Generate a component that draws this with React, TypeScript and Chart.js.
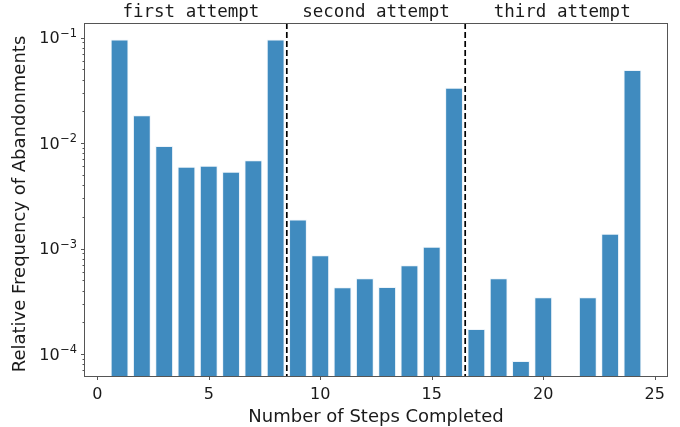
import React, { useEffect, useRef } from 'react';
import { Chart, registerables } from 'chart.js';

Chart.register(...registerables);

// ---- data ----
const STEPS = [1, 2, 3, 4, 5, 6, 7, 8, 9, 10, 11, 12, 13, 14, 15, 16, 17, 18, 19, 20, 21, 22, 23, 24];
const FREQ: (number | null)[] = [
  0.0957, 0.0184, 0.0094, 0.00596, 0.0061, 0.00535, 0.00686, 0.0957,
  0.00189, 0.000863, 0.00043, 0.000523, 0.000432, 0.000693, 0.00104, 0.0334,
  0.000173, 0.000523, 0.0000859, 0.000345, null, 0.000345, 0.00138, 0.0492,
];
const X_TICKS = [0, 5, 10, 15, 20, 25];
const Y_DECADES = [-4, -3, -2, -1];
const DIVIDERS = [8.5, 16.5];
const PHASE_LABELS = ['first attempt', 'second attempt', 'third attempt'];
const PHASE_LABEL_X = [4.2, 12.5, 20.85];
const X_TITLE = 'Number of Steps Completed';
const Y_TITLE = 'Relative Frequency of Abandonments';

const X_MIN = -0.595;
const X_MAX = 25.595;
const Y_MIN = 6.19e-5;
const Y_MAX = 0.1375;

const SANS = '"DejaVu Sans", sans-serif';
const MONO = '"DejaVu Sans Mono", monospace';
const SPINE = '#555555';
const TEXT = '#1a1a1a';

const decorPlugin = {
  id: 'decor',
  afterDraw(chart: any) {
    const { ctx, chartArea } = chart;
    const xs = chart.scales.x;
    const ys = chart.scales.y;
    const { left, right, top, bottom } = chartArea;
    ctx.save();

    // dashed dividers
    ctx.strokeStyle = '#000';
    ctx.lineWidth = 1.7;
    ctx.setLineDash([6, 3]);
    DIVIDERS.forEach((d) => {
      const px = xs.getPixelForValue(d);
      ctx.beginPath();
      ctx.moveTo(px, top);
      ctx.lineTo(px, bottom);
      ctx.stroke();
    });
    ctx.setLineDash([]);

    // axes box
    ctx.strokeStyle = SPINE;
    ctx.lineWidth = 1;
    ctx.strokeRect(Math.round(left) + 0.5, Math.round(top) + 0.5, Math.round(right - left) - 1, Math.round(bottom - top));

    // y ticks (major + minor)
    ctx.beginPath();
    for (let d = -5; d <= 0; d++) {
      for (let m = 1; m <= 9; m++) {
        const v = m * Math.pow(10, d);
        if (v < Y_MIN || v > Y_MAX) continue;
        const py = Math.round(ys.getPixelForValue(v)) + 0.5;
        const len = m === 1 ? 3.5 : 2;
        ctx.moveTo(left + 0.5 - len, py);
        ctx.lineTo(left + 0.5, py);
      }
    }
    // x ticks
    X_TICKS.forEach((t) => {
      const px = Math.round(xs.getPixelForValue(t)) + 0.5;
      ctx.moveTo(px, bottom + 0.5);
      ctx.lineTo(px, bottom + 4);
    });
    ctx.stroke();

    ctx.fillStyle = TEXT;
    // y tick labels: 10^d
    Y_DECADES.forEach((d) => {
      const py = ys.getPixelForValue(Math.pow(10, d));
      const sup = '\u2212' + String(Math.abs(d));
      ctx.font = `11.4px ${SANS}`;
      const supW = ctx.measureText(sup).width;
      ctx.textAlign = 'right';
      ctx.textBaseline = 'alphabetic';
      const rightEdge = 77;
      ctx.fillText(sup, rightEdge, py - 0.8);
      ctx.font = `16px ${SANS}`;
      ctx.fillText('10', rightEdge - supW - 0.5, py + 5.9);
    });

    // x tick labels
    ctx.font = `16px ${SANS}`;
    ctx.textAlign = 'center';
    ctx.textBaseline = 'alphabetic';
    X_TICKS.forEach((t) => {
      ctx.fillText(String(t), xs.getPixelForValue(t), 398.5);
    });

    // x title
    ctx.font = `18px ${SANS}`;
    ctx.fillText(X_TITLE, (left + right) / 2, 421.5);

    // y title
    ctx.save();
    ctx.translate(25, 204);
    ctx.rotate(-Math.PI / 2);
    ctx.textAlign = 'center';
    ctx.fillText(Y_TITLE, 0, 0);
    ctx.restore();

    // phase labels
    ctx.font = `17.5px ${MONO}`;
    ctx.textAlign = 'center';
    PHASE_LABELS.forEach((lab, i) => {
      ctx.fillText(lab, xs.getPixelForValue(PHASE_LABEL_X[i]), 17);
    });

    ctx.restore();
  },
};

export default function App() {
  const ref = useRef<HTMLCanvasElement | null>(null);

  useEffect(() => {
    if (!ref.current) return;
    const chart = new Chart(ref.current, {
      type: 'bar',
      data: {
        datasets: [
          {
            data: STEPS.map((s, i) => ({ x: s, y: FREQ[i] })) as any,
            backgroundColor: 'rgba(31,119,180,0.85)',
            borderColor: 'rgba(235,243,250,0.9)',
            borderWidth: 1,
            barPercentage: 0.8,
            categoryPercentage: 1,
          },
        ],
      },
      options: {
        animation: false,
        responsive: false,
        maintainAspectRatio: false,
        layout: { padding: { top: 23, right: 12, left: 0, bottom: 0 } },
        plugins: { legend: { display: false }, tooltip: { enabled: false } },
        scales: {
          x: {
            type: 'linear',
            min: X_MIN,
            max: X_MAX,
            offset: false,
            ticks: { display: false },
            grid: { display: false },
            border: { display: false },
            afterFit: (s: any) => {
              s.height = 51;
            },
          },
          y: {
            type: 'logarithmic',
            min: Y_MIN,
            max: Y_MAX,
            ticks: { display: false },
            grid: { display: false },
            border: { display: false },
            afterFit: (s: any) => {
              s.width = 84;
            },
          },
        },
      },
      plugins: [decorPlugin],
    });
    return () => chart.destroy();
  }, []);

  return (
    <div style={{ position: 'fixed', left: 0, top: 0, width: 680, height: 427, background: '#fff' }}>
      <canvas ref={ref} width={680} height={427} style={{ display: 'block', width: 680, height: 427 }} />
    </div>
  );
}
